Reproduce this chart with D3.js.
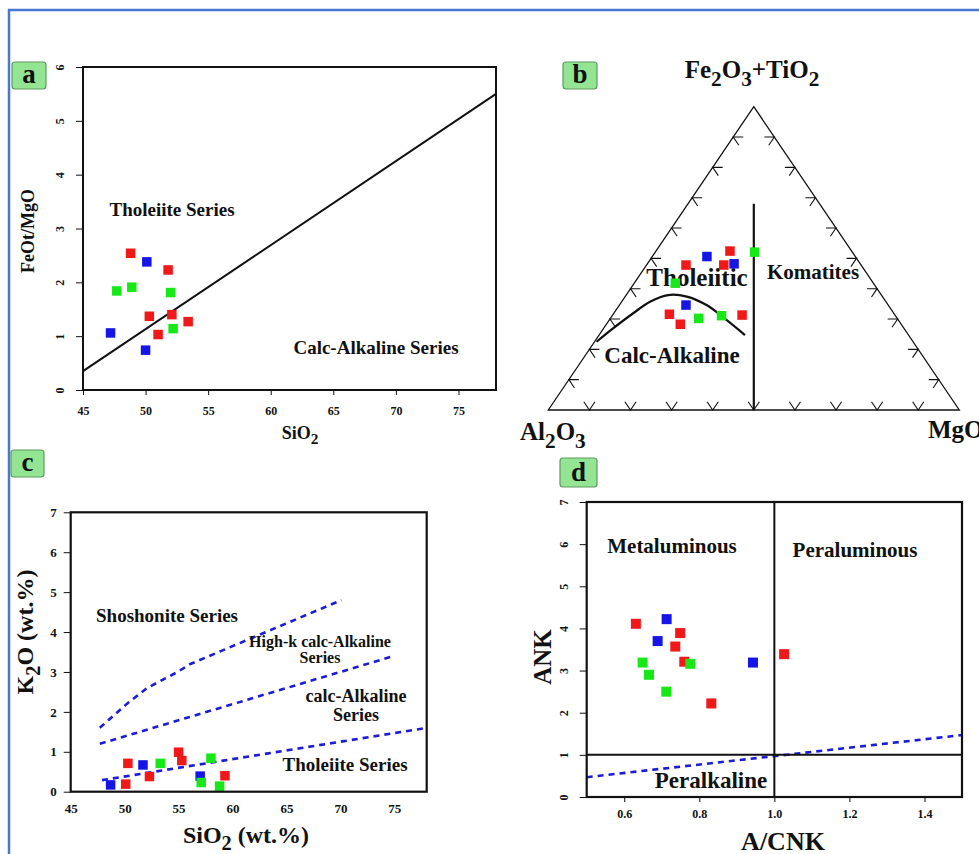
<!DOCTYPE html>
<html>
<head>
<meta charset="utf-8">
<script src="https://cdn.jsdelivr.net/npm/d3@7"></script>
<style>
  body { margin: 0; background: #fff; }
  svg text { font-family: "Liberation Serif", "Times New Roman", serif; font-weight: bold; fill: #111; }
</style>
</head>
<body>
<script>

// sample groups, same order in every panel: 6 red, 3 blue, 4 green
var sampleGroup = [0, 0, 0, 0, 0, 0, 1, 1, 1, 2, 2, 2, 2];
var groupColors = ["#f01818", "#1515e8", "#18e818"];

// (a) FeOt/MgO vs SiO2
var aSiO2 = [48.8, 51.8, 50.3, 52.1, 53.4, 51.0, 50.1, 47.2, 50.0, 47.7, 48.9, 52.0, 52.2];
var aFeOtMgO = [2.54, 2.23, 1.37, 1.40, 1.27, 1.03, 2.38, 1.06, 0.74, 1.84, 1.91, 1.81, 1.14];
var aXTicks = [45, 50, 55, 60, 65, 70, 75];
var aYTicks = [0, 1, 2, 3, 4, 5, 6];
var aDivide = [[45, 0.35], [78, 5.5]];

// (b) ternary Al2O3 - (Fe2O3+TiO2) - MgO, in %
var bAl = [42.6, 29.6, 33.4, 54.8, 53.8, 37.2, 36.1, 30.7, 49.2, 23.8, 48.2, 48.3, 42.3];
var bFe = [47.8, 52.4, 47.8, 31.6, 28.3, 31.3, 50.6, 48.2, 34.6, 52.1, 41.8, 30.2, 31.1];
var bMg = [9.6, 18.0, 18.8, 13.7, 18.0, 31.5, 13.3, 21.1, 16.2, 24.2, 10.0, 21.5, 26.6];
var bCurveAl = [77.0, 70.8, 63.4, 57.4, 51.9, 47.6, 44.2, 41.8, 39.8];
var bCurveFe = [22.5, 26.9, 31.9, 35.7, 37.9, 37.4, 34.6, 29.7, 24.7];
var bCurveMg = [0.5, 2.3, 4.7, 6.9, 10.2, 15.0, 21.2, 28.5, 35.5];
var bDivide = [[16, 68, 16], [50, 0, 50]];
var bTicks = [10, 20, 30, 40, 50, 60, 70, 80, 90];

// (c) K2O vs SiO2
var cSiO2 = [50.3, 50.1, 52.3, 55.0, 55.3, 59.3, 48.7, 51.7, 57.0, 53.3, 58.0, 57.1, 58.8];
var cK2O = [0.71, 0.19, 0.38, 0.99, 0.78, 0.40, 0.17, 0.67, 0.39, 0.71, 0.84, 0.23, 0.14];
var cXTicks = [45, 50, 55, 60, 65, 70, 75];
var cYTicks = [0, 1, 2, 3, 4, 5, 6, 7];
var cShoshonite = [[47.7, 1.6], [50.2, 2.2], [52.1, 2.6], [54.9, 3.0], [56.1, 3.2], [70.1, 4.8]];
var cHighK = [[47.7, 1.2], [74.7, 3.38]];
var cCalcAlk = [[47.9, 0.29], [78, 1.6]];

// (d) ANK vs A/CNK
var dACNK = [0.631, 0.749, 0.736, 0.760, 0.832, 1.026, 0.713, 0.689, 0.943, 0.649, 0.666, 0.712, 0.776];
var dANK = [4.11, 3.89, 3.57, 3.21, 2.22, 3.39, 4.22, 3.70, 3.19, 3.19, 2.90, 2.50, 3.16];
var dXTicks = [0.6, 0.8, 1.0, 1.2, 1.4];
var dYTicks = [0, 1, 2, 3, 4, 5, 6, 7];
var dDash = [[0.5, 0.47], [1.5, 1.47]];
var dACNKLimit = 1.0, dANKLimit = 1.0;


var svg = d3.select("body").append("svg")
    .attr("width", 979)
    .attr("height", 854);

svg.append("rect").attr("width", 979).attr("height", 854).attr("fill", "#fff");

// blue frame round the figure
svg.append("path")
    .attr("d", "M9,854V10H979")
    .attr("fill", "none")
    .attr("stroke", "#4a78cf")
    .attr("stroke-width", 2.5);

function panelLabel(x, y, w, h, letter) {
    svg.append("rect")
        .attr("x", x).attr("y", y).attr("width", w).attr("height", h)
        .attr("rx", 3)
        .attr("fill", "#93e593")
        .attr("stroke", "#5f9a5f")
        .attr("stroke-width", 1.2);
    svg.append("text")
        .attr("x", x + w / 2).attr("y", y + h - 6)
        .attr("text-anchor", "middle")
        .attr("font-size", 27)
        .text(letter);
}

// text with subscripts, parts = [[string, isSub], ...]
function subText(parent, x, y, parts, size, anchor, rotate) {
    var t = parent.append("text")
        .attr("font-size", size)
        .attr("text-anchor", anchor || "middle");
    if (rotate) t.attr("transform", "translate(" + x + "," + y + ") rotate(-90)");
    else t.attr("x", x).attr("y", y);
    var shift = size * 0.3, down = false;
    parts.forEach(function(p) {
        var s = t.append("tspan").text(p[0]);
        if (p[1]) {
            s.attr("font-size", size * 0.85);
            if (!down) { s.attr("dy", shift); down = true; }
        } else if (down) {
            s.attr("dy", -shift); down = false;
        }
    });
    return t;
}

function label(parent, x, y, str, size, anchor) {
    return parent.append("text")
        .attr("x", x).attr("y", y)
        .attr("text-anchor", anchor || "middle")
        .attr("font-size", size)
        .text(str);
}

function squares(parent, xs, ys, xScale, yScale, size) {
    parent.append("g").selectAll("rect")
        .data(xs.map(function(d, i) { return {x: d, y: ys[i], g: sampleGroup[i]}; }))
        .enter().append("rect")
        .attr("x", function(d) { return xScale(d.x) - size / 2; })
        .attr("y", function(d) { return yScale(d.y) - size / 2; })
        .attr("width", size)
        .attr("height", size)
        .attr("fill", function(d) { return groupColors[d.g]; });
}

// R style axes: bold sans labels, y labels turned
function rAxes(x, y, xTicks, yTicks, xFmt, yLen, xGap, yGap) {
    var xa = svg.append("g")
        .attr("transform", "translate(0," + y.range()[0] + ")")
        .call(d3.axisBottom(x).tickValues(xTicks).tickSize(5).tickSizeOuter(0).tickFormat(xFmt));
    xa.select(".domain").remove();
    xa.selectAll(".tick text")
        .attr("y", xGap)
        .attr("font-family", "Liberation Sans, Arial, sans-serif")
        .attr("font-size", 12)
        .attr("fill", "#111");

    var ya = svg.append("g")
        .attr("transform", "translate(" + x.range()[0] + ",0)")
        .call(d3.axisLeft(y).tickValues(yTicks).tickSize(yLen).tickSizeOuter(0).tickFormat(d3.format("d")));
    ya.select(".domain").remove();
    ya.selectAll(".tick text")
        .attr("transform", "rotate(-90)")
        .attr("x", 0)
        .attr("y", -yGap)
        .attr("dy", 0)
        .attr("text-anchor", "middle")
        .attr("font-family", "Liberation Sans, Arial, sans-serif")
        .attr("font-size", 12)
        .attr("fill", "#111");
    svg.selectAll(".tick line").attr("stroke", "#111");
}

function box(x, y, w) {
    svg.append("rect")
        .attr("x", x.range()[0]).attr("y", y.range()[1])
        .attr("width", x.range()[1] - x.range()[0])
        .attr("height", y.range()[0] - y.range()[1])
        .attr("fill", "none")
        .attr("stroke", "#111")
        .attr("stroke-width", w);
}

// ---------------- panel a
var ax = d3.scaleLinear().domain([45, 78]).range([83, 496]),
    ay = d3.scaleLinear().domain([0, 6]).range([390, 67]);

panelLabel(12, 62, 34, 27, "a");
rAxes(ax, ay, aXTicks, aYTicks, d3.format("d"), 7, 16, 19);

var line_a = d3.line().x(function(d) { return ax(d[0]); }).y(function(d) { return ay(d[1]); });
svg.append("path").datum(aDivide)
    .attr("d", line_a)
    .attr("fill", "none").attr("stroke", "#111").attr("stroke-width", 2);

squares(svg, aSiO2, aFeOtMgO, ax, ay, 9.5);
box(ax, ay, 2);

label(svg, 172, 216, "Tholeiite Series", 19);
label(svg, 376, 354, "Calc-Alkaline Series", 19);
subText(svg, 34, 231, [["FeOt/MgO", 0]], 18, "middle", true);
subText(svg, 300, 439, [["SiO", 0], ["2", 1]], 18, "middle");

// ---------------- panel b
var bx = d3.scaleLinear().domain([0, 1]).range([548.3, 959.3]),
    by = d3.scaleLinear().domain([0, 1]).range([410, 106.7]);

function tern(al, fe, mg) {
    var s = al + fe + mg, f = fe / s, m = mg / s;
    return [bx(m + f / 2), by(f)];
}

panelLabel(563, 62, 34, 27, "b");

var cA = tern(100, 0, 0), cF = tern(0, 100, 0), cM = tern(0, 0, 100);
svg.append("path")
    .attr("d", "M" + cA + "L" + cF + "L" + cM + "Z")
    .attr("fill", "none").attr("stroke", "#111").attr("stroke-width", 1.3);

function unit(p, q) {
    var dx = q[0] - p[0], dy = q[1] - p[1], l = Math.hypot(dx, dy);
    return [dx / l, dy / l];
}
function chevron(p, u1, u2) {
    var len = 10;
    return "M" + (p[0] + u1[0] * len) + "," + (p[1] + u1[1] * len) +
        "L" + p[0] + "," + p[1] +
        "L" + (p[0] + u2[0] * len) + "," + (p[1] + u2[1] * len);
}
var tickPaths = [];
bTicks.forEach(function(t) {
    tickPaths.push(chevron(tern(100 - t, 0, t), unit(cA, cF), unit(cM, cF)));
    tickPaths.push(chevron(tern(100 - t, t, 0), unit(cA, cM), unit(cF, cM)));
    tickPaths.push(chevron(tern(0, t, 100 - t), unit(cM, cA), unit(cF, cA)));
});
svg.append("g").selectAll("path")
    .data(tickPaths)
    .enter().append("path")
    .attr("d", function(d) { return d; })
    .attr("fill", "none").attr("stroke", "#111").attr("stroke-width", 1.1);

var tLine = d3.line().curve(d3.curveCatmullRom.alpha(0.5));
svg.append("path")
    .datum(bCurveAl.map(function(d, i) { return tern(d, bCurveFe[i], bCurveMg[i]); }))
    .attr("d", tLine)
    .attr("fill", "none").attr("stroke", "#111").attr("stroke-width", 2.2);

svg.append("path")
    .datum(bDivide.map(function(d) { return tern(d[0], d[1], d[2]); }))
    .attr("d", d3.line())
    .attr("fill", "none").attr("stroke", "#111").attr("stroke-width", 2.2);

label(svg, 813, 279, "Komatites", 21);
label(svg, 672, 363, "Calc-Alkaline", 23);
label(svg, 697, 286, "Tholeiitic", 25);

var bPts = bAl.map(function(d, i) { return tern(d, bFe[i], bMg[i]); });
squares(svg, bPts.map(function(p) { return p[0]; }), bPts.map(function(p) { return p[1]; }),
    function(v) { return v; }, function(v) { return v; }, 9.5);

subText(svg, 752, 78, [["Fe", 0], ["2", 1], ["O", 0], ["3", 1], ["+TiO", 0], ["2", 1]], 25, "middle");
subText(svg, 520, 440, [["Al", 0], ["2", 1], ["O", 0], ["3", 1]], 25, "start");
subText(svg, 928, 438, [["MgO", 0]], 25, "start");

// ---------------- panel c
var cx = d3.scaleLinear().domain([45, 78]).range([70.7, 426.7]),
    cy = d3.scaleLinear().domain([0, 7]).range([791.7, 512.3]);

panelLabel(11, 450, 33, 27, "c");

var cxa = svg.append("g")
    .attr("transform", "translate(0," + cy(0) + ")")
    .call(d3.axisBottom(cx).tickValues(cXTicks).tickSize(0).tickFormat(d3.format("d")));
cxa.select(".domain").remove();
cxa.selectAll(".tick text").attr("y", 12).attr("font-size", 13).attr("fill", "#111");

var cya = svg.append("g")
    .attr("transform", "translate(" + cx(45) + ",0)")
    .call(d3.axisLeft(cy).tickValues(cYTicks).tickSize(7).tickFormat(d3.format("d")));
cya.select(".domain").remove();
cya.selectAll(".tick text").attr("x", -14).attr("font-size", 13).attr("fill", "#111");
cya.selectAll(".tick line").attr("stroke", "#111");

var line_c = d3.line().x(function(d) { return cx(d[0]); }).y(function(d) { return cy(d[1]); });
[cShoshonite, cHighK, cCalcAlk].forEach(function(l) {
    svg.append("path").datum(l)
        .attr("d", line_c)
        .attr("fill", "none")
        .attr("stroke", "#1c1cd6")
        .attr("stroke-width", 2.6)
        .attr("stroke-dasharray", "6,5");
});

squares(svg, cSiO2, cK2O, cx, cy, 9.5);
box(cx, cy, 2.2);

label(svg, 167, 622, "Shoshonite Series", 19);
label(svg, 320, 647, "High-k calc-Alkaline", 16);
label(svg, 320, 663, "Series", 16);
label(svg, 356, 702, "calc-Alkaline", 18);
label(svg, 356, 721, "Series", 18);
label(svg, 345, 771, "Tholeiite Series", 19);

subText(svg, 33, 632, [["K", 0], ["2", 1], ["O (wt.%)", 0]], 24, "middle", true);
subText(svg, 246, 843, [["SiO", 0], ["2", 1], [" (wt.%)", 0]], 24, "middle");

// ---------------- panel d
var dx = d3.scaleLinear().domain([0.5, 1.5]).range([586.7, 962]),
    dy = d3.scaleLinear().domain([0, 7]).range([797, 502]);

panelLabel(560, 458, 37, 29, "d");
rAxes(dx, dy, dXTicks, dYTicks, d3.format(".1f"), 7, 12, 19);

var line_d = d3.line().x(function(d) { return dx(d[0]); }).y(function(d) { return dy(d[1]); });
svg.append("path").datum(dDash)
    .attr("d", line_d)
    .attr("fill", "none")
    .attr("stroke", "#1c1cd6")
    .attr("stroke-width", 2.6)
    .attr("stroke-dasharray", "6,5");

svg.append("line")
    .attr("x1", dx(dACNKLimit)).attr("x2", dx(dACNKLimit))
    .attr("y1", dy(0)).attr("y2", dy(7))
    .attr("stroke", "#111").attr("stroke-width", 2);
svg.append("line")
    .attr("x1", dx(0.5)).attr("x2", dx(1.5))
    .attr("y1", dy(dANKLimit)).attr("y2", dy(dANKLimit))
    .attr("stroke", "#111").attr("stroke-width", 2);

squares(svg, dACNK, dANK, dx, dy, 10);
box(dx, dy, 2.2);

label(svg, 672, 553, "Metaluminous", 21);
label(svg, 855, 557, "Peraluminous", 21);
label(svg, 711, 788, "Peralkaline", 23);

subText(svg, 551, 657, [["ANK", 0]], 25, "middle", true);
subText(svg, 783, 850, [["A/CNK", 0]], 26, "middle");

</script>
</body>
</html>
